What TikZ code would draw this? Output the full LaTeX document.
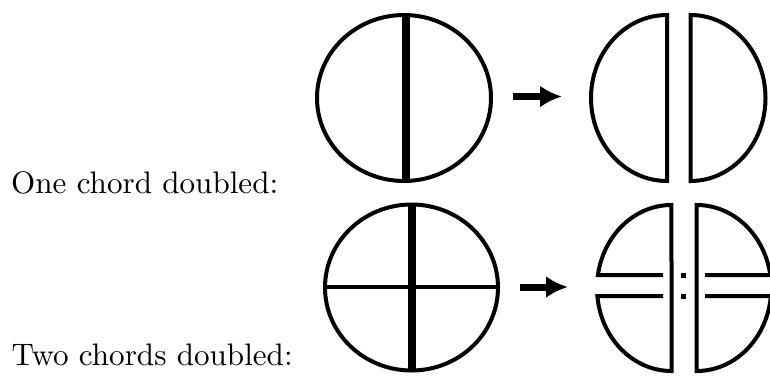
\documentclass[tikz,border=0pt]{standalone}
\usetikzlibrary{arrows.meta}
\begin{document}
\begin{tikzpicture}[x=1pt,y=-1pt,line join=miter,
  outline/.style={line width=4pt},
  thickchord/.style={line width=7.5pt},
  fatarrow/.style={line width=7pt,-{Latex[length=22pt,width=22pt]}},
  caption/.style={anchor=base west,scale=3.11,inner sep=0pt}]
\useasboundingbox (0,0) rectangle (770,384);
% captions
\node[caption] (t1) at (10.5,193) {One chord doubled:};
\node[caption] (t2) at (11,365) {Two chords doubled:};
% top-left circle with one chord
\draw[outline] (404,98) ellipse[x radius=87,y radius=83];
\draw[thickchord] (406,15) -- (406,181);
% top arrow
\coordinate (a1s) at (513,96.5);
\coordinate (a1e) at (562,96.5);
\draw[fatarrow] (a1s) -- (a1e);
% top-right halves
\draw[outline] (667,15) -- (667,181) arc[start angle=90,end angle=270,x radius=76,y radius=83] -- cycle;
\draw[outline] (690.5,15) -- (690.5,181) arc[start angle=90,end angle=-90,x radius=75,y radius=83] -- cycle;
% bottom-left circle with two chords
\draw[outline] (411.5,287.5) ellipse[x radius=86.5,y radius=83];
\draw[outline] (325,287) -- (498,287);
\draw[thickchord] (412,204.5) -- (412,370.5);
% bottom arrow
\coordinate (a2s) at (520,287);
\coordinate (a2e) at (568,287);
\draw[fatarrow] (a2s) -- (a2e);
% bottom-right pieces
\draw[outline] (663,275) -- (597.9,275)
  arc[start angle=189,end angle=270,x radius=74.5,y radius=83]
  -- (671.5,371)
  arc[start angle=90,end angle=174.47,x radius=74.5,y radius=83]
  -- (663,296);
\draw[outline] (705,275) -- (770.3,275)
  arc[start angle=-9.01,end angle=-90,x radius=74.5,y radius=83]
  -- (696.7,371)
  arc[start angle=90,end angle=5.53,x radius=74.5,y radius=83]
  -- (705,296);
\fill (680.5,272.5) rectangle ++(5,5);
\fill (680.5,293.5) rectangle ++(5,5);
\end{tikzpicture}
\end{document}
